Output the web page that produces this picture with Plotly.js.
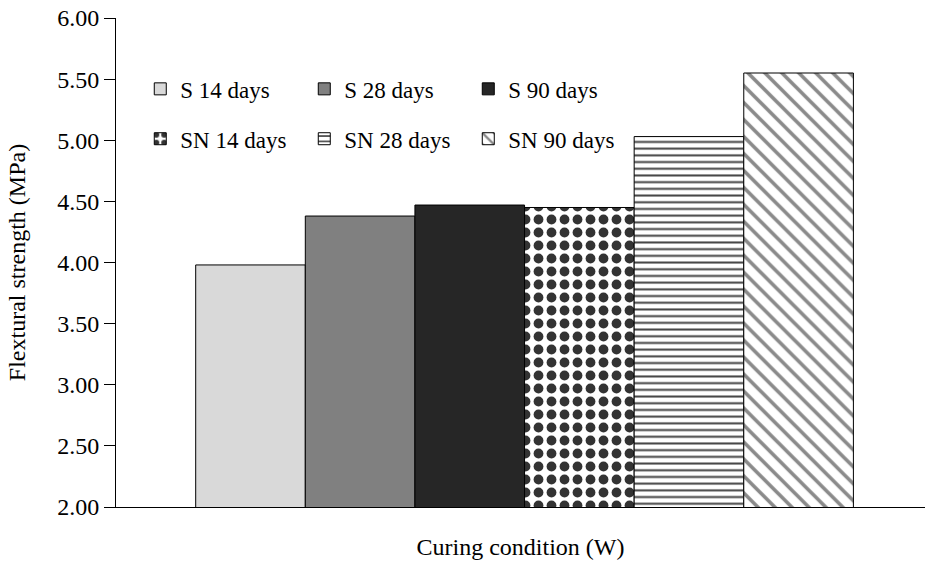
<!DOCTYPE html>
<html>
<head>
<meta charset="utf-8">
<script src="https://cdn.plot.ly/plotly-3.0.1.min.js"></script>
<style>html,body{margin:0;padding:0;background:#fff;}#chart{width:925px;height:563px;}</style>
</head>
<body>
<div id="chart"></div>
<script>
const category = ['W'];
const seriesNames = ['S 14 days', 'S 28 days', 'S 90 days', 'SN 14 days', 'SN 28 days', 'SN 90 days'];
const seriesValues = [3.98, 4.38, 4.47, 4.45, 5.03, 5.55];
const yTickVals = [2, 2.5, 3, 3.5, 4, 4.5, 5, 5.5, 6];
const yTickText = ['2.00', '2.50', '3.00', '3.50', '4.00', '4.50', '5.00', '5.50', '6.00'];

const styles = [
  {color: '#d9d9d9', pattern: {shape: ''}},
  {color: '#808080', pattern: {shape: ''}},
  {color: '#262626', pattern: {shape: ''}},
  {color: '#ffffff', pattern: {shape: '.', fgcolor: '#333333', bgcolor: '#ffffff', size: 13, solidity: 0.45, fillmode: 'replace'}},
  {color: '#ffffff', pattern: {shape: '-', fgcolor: '#444444', bgcolor: '#ffffff', size: 6.7, solidity: 0.3, fillmode: 'replace'}},
  {color: '#ffffff', pattern: {shape: '\\', fgcolor: '#8a8a8a', bgcolor: '#ffffff', size: 12, solidity: 0.3, fillmode: 'replace'}}
];

const traces = seriesNames.map((name, i) => ({
  type: 'bar',
  name: name,
  x: category,
  y: [seriesValues[i]],
  legend: i < 3 ? 'legend' : 'legend2',
  marker: {
    color: styles[i].color,
    pattern: styles[i].pattern,
    line: {color: '#000000', width: 1}
  }
}));

const font = {family: '"Liberation Serif", "Times New Roman", serif', size: 24, color: '#000000'};

const legendBase = {
  orientation: 'h',
  xanchor: 'left',
  yanchor: 'middle',
  x: 0.03,
  bgcolor: 'rgba(0,0,0,0)',
  font: {family: font.family, size: 23, color: '#000'},
  entrywidth: 119,
  traceorder: 'normal'
};

const layout = {
  width: 925,
  height: 563,
  margin: {l: 116, r: 0, t: 18, b: 56},
  paper_bgcolor: '#ffffff',
  plot_bgcolor: '#ffffff',
  font: font,
  barmode: 'group',
  bargap: 0.187,
  bargroupgap: 0,
  showlegend: true,
  legend: Object.assign({}, legendBase, {y: 0.855}),
  legend2: Object.assign({}, legendBase, {y: 0.753}),
  xaxis: {
    range: [-0.505, 0.495],
    showticklabels: false,
    ticks: '',
    showline: true,
    linecolor: '#000000',
    linewidth: 1,
    showgrid: false,
    zeroline: false,
    title: {text: 'Curing condition (W)', font: font, standoff: 31}
  },
  yaxis: {
    range: [2, 6],
    tickvals: yTickVals,
    ticktext: yTickText,
    ticks: 'outside',
    ticklen: 11,
    tickcolor: '#000000',
    showline: true,
    linecolor: '#000000',
    linewidth: 1,
    showgrid: false,
    zeroline: false,
    tickfont: font,
    title: {text: 'Flextural strength (MPa)', font: font, standoff: 24}
  }
};

Plotly.newPlot('chart', traces, layout, {displayModeBar: false, staticPlot: true});
</script>
</body>
</html>
